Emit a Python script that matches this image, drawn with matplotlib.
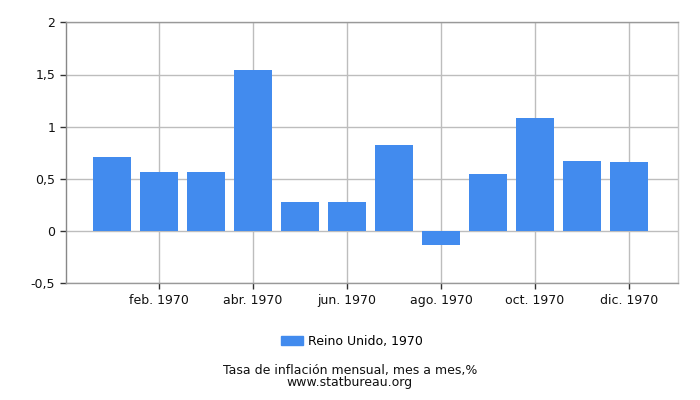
import matplotlib
matplotlib.use("Agg")
import matplotlib.pyplot as plt
from matplotlib.patches import Patch
from matplotlib.ticker import FuncFormatter

months = ["ene. 1970", "feb. 1970", "mar. 1970", "abr. 1970", "may. 1970", "jun. 1970",
          "jul. 1970", "ago. 1970", "sep. 1970", "oct. 1970", "nov. 1970", "dic. 1970"]
values = [0.71, 0.57, 0.57, 1.54, 0.28, 0.28, 0.82, -0.13, 0.55, 1.08, 0.67, 0.66]
series_label = "Reino Unido, 1970"
title = "Tasa de inflación mensual, mes a mes,%"
source = "www.statbureau.org"
yticks = [-0.5, 0, 0.5, 1, 1.5, 2]

bar_color = "#428bee"
grid_color = "#bdbdbd"

fig = plt.figure(figsize=(7, 4), dpi=100)
ax = fig.add_axes([65.7 / 700, 1 - 283.3 / 400, (678.3 - 65.7) / 700, (283.3 - 22.3) / 400])

x = list(range(len(months)))
ax.bar(x, values, width=0.8, color=bar_color, zorder=3)

ax.set_xlim(-0.985, 12.05)
ax.set_ylim(-0.5, 2)
ax.set_yticks(yticks)
ax.yaxis.set_major_formatter(FuncFormatter(lambda v, p: ("%g" % v).replace(".", ",")))
tick_idx = [1, 3, 5, 7, 9, 11]
ax.set_xticks(tick_idx)
ax.set_xticklabels([months[i] for i in tick_idx])

ax.grid(True, color=grid_color, linewidth=1, zorder=0)
ax.tick_params(axis="both", direction="out", length=4, width=1, colors="#333333",
               labelsize=9, labelcolor="#111111")
ax.tick_params(axis="x", pad=4)
for name, sp in ax.spines.items():
    sp.set_color("#999999")
    sp.set_linewidth(1)
ax.spines["right"].set_color("#c8c8c8")
ax.spines["left"].set_color("#888888")

fig.legend(handles=[Patch(color=bar_color, label=series_label)], loc="center",
           bbox_to_anchor=(352 / 700, 1 - 341 / 400), frameon=False, fontsize=9,
           handlelength=1.8, handleheight=0.7, handletextpad=0.4)
fig.text(0.5, 1 - 376.5 / 400, title + "\n" + source, ha="center", va="center",
         fontsize=9, color="#111111", linespacing=0.92)

fig.savefig("out.png", dpi=100)
